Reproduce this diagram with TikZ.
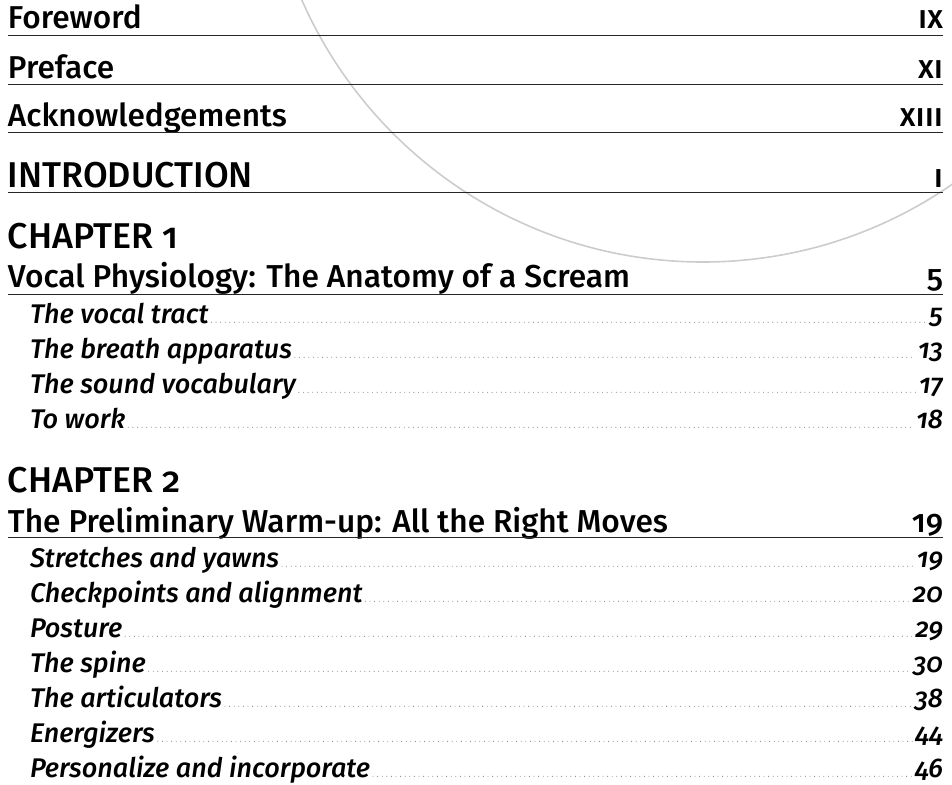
\documentclass[tikz,border=0pt]{standalone}
\usepackage{fontspec}
\setmainfont{Fira Sans}[UprightFont=* Medium, ItalicFont=* Medium Italic, Numbers=OldStyle]
\newlength\fitlen
\begin{document}
\settowidth\fitlen{\fontsize{10}{12}\selectfont Acknowledgements}%
\pgfmathsetmacro\szH{10*279/\fitlen}%
\settowidth\fitlen{\fontsize{10}{12}\selectfont INTRODUCTION}%
\pgfmathsetmacro\szI{10*245/\fitlen}%
\settowidth\fitlen{\fontsize{10}{12}\selectfont The Preliminary Warm-up: All the Right Moves}%
\pgfmathsetmacro\szT{10*660/\fitlen}%
\settowidth\fitlen{\fontsize{10}{12}\selectfont\itshape Personalize and incorporate}%
\pgfmathsetmacro\szS{10*340/\fitlen}%
\begin{tikzpicture}[x=1pt,y=1pt]
\tikzset{
  every node/.style={inner sep=0pt, outer sep=0pt},
  fronthead/.style={anchor=base west, font=\fontsize{\szH}{\szH}\selectfont},
  bighead/.style={anchor=base west, font=\fontsize{\szI}{\szI}\selectfont},
  chtitle/.style={anchor=base west, font=\fontsize{\szT}{\szT}\selectfont},
  subentry/.style={anchor=base west, font=\fontsize{\szS}{\szS}\selectfont\itshape},
  pnum/.style={anchor=base east, font=\fontsize{\szH}{\szH}\selectfont},
  tnum/.style={anchor=base east, font=\fontsize{\szT}{\szT}\selectfont},
  snum/.style={anchor=base east, font=\fontsize{\szS}{\szS}\selectfont\itshape},
  rulestyle/.style={draw=black!85, line width=1pt},
  leader/.style={draw=black!75, line width=0.9pt, line cap=round, dash pattern=on 0pt off 4.6pt},
  arcstyle/.style={draw=black!20, line width=1.6pt}
}
\useasboundingbox (0,0) rectangle (952,-784);
\begin{scope}
\clip (0,0) rectangle (952,-784);
\draw[arcstyle] (703,176) circle[radius=438];
\end{scope}
% front matter
\node[fronthead] (fw) at (8,-29) {Foreword};
\node[pnum] (fwn) at (943,-29) {\textsc{ix}};
\coordinate (fwl) at (8,-36); \coordinate (fwr) at (943,-36);
\draw[rulestyle] (fwl) -- (fwr);
\node[fronthead] (pf) at (8,-78) {Preface};
\node[pnum] (pfn) at (943,-78) {\textsc{xi}};
\coordinate (pfl) at (8,-84); \coordinate (pfr) at (943,-84);
\draw[rulestyle] (pfl) -- (pfr);
\node[fronthead] (ak) at (8,-126) {Acknowledgements};
\node[pnum] (akn) at (943,-126) {\textsc{xiii}};
\coordinate (akl) at (8,-132); \coordinate (akr) at (943,-132);
\draw[rulestyle] (akl) -- (akr);
\node[bighead] (in) at (8,-187) {INTRODUCTION};
\node[tnum] (inn) at (943,-187) {\textsc{i}};
\coordinate (inl) at (8,-192); \coordinate (inr) at (943,-192);
\draw[rulestyle] (inl) -- (inr);
% chapter 1
\node[bighead] (c1) at (8,-248) {CHAPTER 1};
\node[chtitle] (t1) at (8,-287) {Vocal Physiology: The Anatomy of a Scream};
\node[tnum] (t1n) at (943,-287) {5};
\coordinate (t1l) at (8,-294); \coordinate (t1r) at (943,-294);
\draw[rulestyle] (t1l) -- (t1r);
\foreach \name/\txt/\pg/\y in {s11/The vocal tract/5/323, s12/The breath apparatus/13/358, s13/The sound vocabulary/17/393, s14/To work/18/428}{
  \node[subentry] (\name) at (30,-\y) {\txt};
  \node[snum] (\name n) at (943,-\y) {\pg};
  \draw[leader] ([xshift=3pt,yshift=0.8pt]\name.base east) -- ([xshift=-3pt,yshift=0.8pt]\name n.base west);
}
% chapter 2
\node[bighead] (c2) at (8,-492) {CHAPTER 2};
\node[chtitle] (t2) at (8,-532) {The Preliminary Warm-up: All the Right Moves};
\node[tnum] (t2n) at (943,-532) {19};
\coordinate (t2l) at (8,-537); \coordinate (t2r) at (943,-537);
\draw[rulestyle] (t2l) -- (t2r);
\foreach \name/\txt/\pg/\y in {s21/Stretches and yawns/19/567, s22/Checkpoints and alignment/20/602, s23/Posture/29/637, s24/The spine/30/672, s25/The articulators/38/707, s26/Energizers/44/742, s27/Personalize and incorporate/46/777}{
  \node[subentry] (\name) at (30,-\y) {\txt};
  \node[snum] (\name n) at (943,-\y) {\pg};
  \draw[leader] ([xshift=3pt,yshift=0.8pt]\name.base east) -- ([xshift=-3pt,yshift=0.8pt]\name n.base west);
}
\end{tikzpicture}
\end{document}
